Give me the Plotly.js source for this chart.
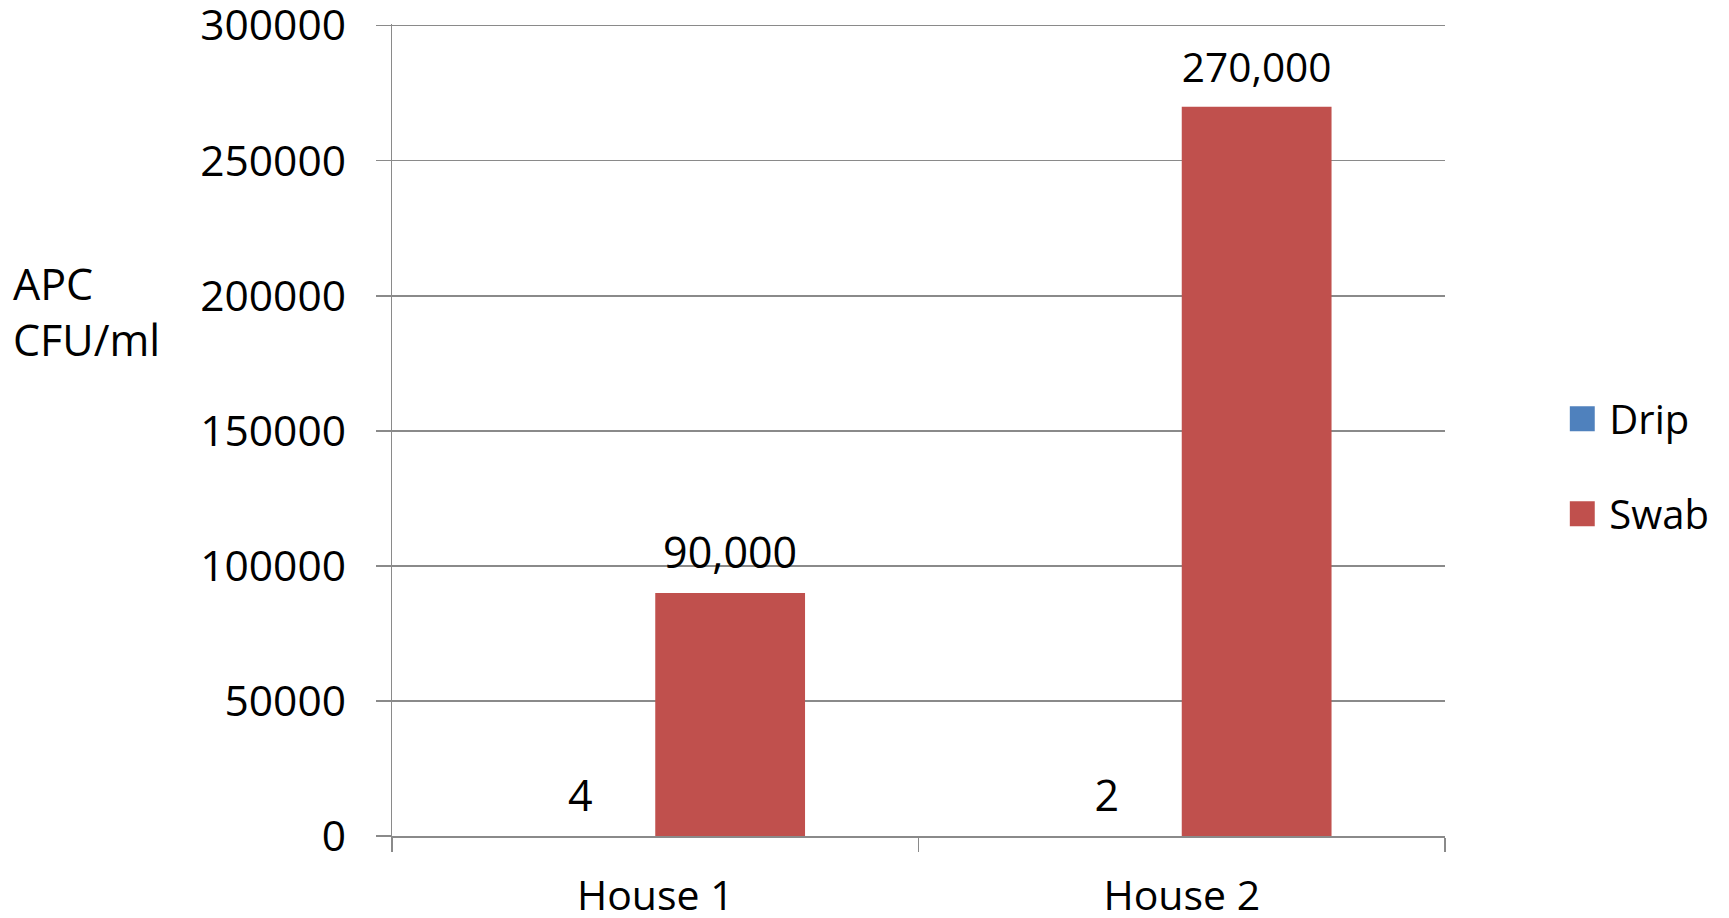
<!DOCTYPE html>
<html>
<head>
<meta charset="utf-8">
<script src="https://cdn.plot.ly/plotly-3.0.1.min.js"></script>
<style>
  html, body { margin: 0; padding: 0; background: #fff; }
  #chart { width: 1729px; height: 918px; }
</style>
</head>
<body>
<div id="chart"></div>
<script>
// Aerobic plate counts per house, by sampling method
const houses = ['House 1', 'House 2'];
const dripValues = [4, 2];
const swabValues = [90000, 270000];
const seriesNames = ['Drip', 'Swab'];
const seriesColors = ['#4F81BD', '#C0504D'];
const yTickValues = [0, 50000, 100000, 150000, 200000, 250000, 300000];

const FONT = 'Open Sans, Lato, sans-serif';
const GRID = '#8a8a8a';

const barTrace = (name, values, color) => ({
  type: 'bar',
  name: name,
  legendgroup: name,
  x: houses,
  y: values,
  marker: { color: color },
  text: values,
  texttemplate: '%{y:,}',
  textposition: 'outside',
  textfont: { family: FONT, size: 43, color: '#000' },
  cliponaxis: false,
  hoverinfo: 'x+y+name'
});

const data = [
  barTrace(seriesNames[0], dripValues, seriesColors[0]),
  barTrace(seriesNames[1], swabValues, seriesColors[1])
];

const layout = {
  width: 1729,
  height: 918,
  margin: { l: 391.5, r: 283.5, t: 24, b: 82 },
  paper_bgcolor: '#fff',
  plot_bgcolor: '#fff',
  font: { family: FONT, color: '#000' },
  barmode: 'group',
  bargap: 0.431,
  bargroupgap: 0,
  showlegend: true,
  legend: {
    x: 1.118,
    xanchor: 'left',
    y: 0.554,
    yanchor: 'top',
    traceorder: 'grouped',
    tracegroupgap: 40,
    font: { family: FONT, size: 40, color: '#000' },
    bgcolor: 'rgba(0,0,0,0)'
  },
  xaxis: {
    type: 'category',
    tickson: 'boundaries',
    ticks: 'outside',
    ticklen: 14,
    tickwidth: 1.5,
    tickcolor: GRID,
    showline: true,
    linecolor: GRID,
    linewidth: 1.5,
    showgrid: false,
    ticklabelstandoff: 23,
    ticklabeloverflow: 'allow',
    tickfont: { family: FONT, size: 41, color: '#000' }
  },
  yaxis: {
    range: [0, 300600],
    tickvals: yTickValues,
    ticktext: yTickValues.map(String),
    ticks: 'outside',
    ticklen: 15,
    tickwidth: 1.5,
    tickcolor: GRID,
    showline: true,
    linecolor: GRID,
    linewidth: 1.5,
    showgrid: true,
    gridcolor: GRID,
    gridwidth: 1.5,
    zeroline: false,
    ticklabelstandoff: 21,
    ticklabeloverflow: 'allow',
    tickfont: { family: FONT, size: 42.5, color: '#000' }
  },
  annotations: [{
    text: 'APC<br>CFU/ml',
    xref: 'paper',
    yref: 'paper',
    x: -0.362,
    y: 0.646,
    xanchor: 'left',
    yanchor: 'middle',
    align: 'left',
    showarrow: false,
    font: { family: FONT, size: 43, color: '#000' }
  }]
};

Plotly.newPlot('chart', data, layout, { displayModeBar: false, staticPlot: true }).then(gd => {
  // Lift the value labels a little further above their bars
  gd.querySelectorAll('.bartext').forEach(t => {
    const tr = t.getAttribute('transform') || '';
    t.setAttribute('transform', 'translate(0,-9) ' + tr);
  });
  // Larger legend swatches
  gd.querySelectorAll('.legendpoints path').forEach(p => {
    const tr = p.getAttribute('transform') || '';
    p.setAttribute('transform', (tr ? tr + ' ' : '') + 'translate(-7,0) scale(2.083)');
  });
});
</script>
</body>
</html>
